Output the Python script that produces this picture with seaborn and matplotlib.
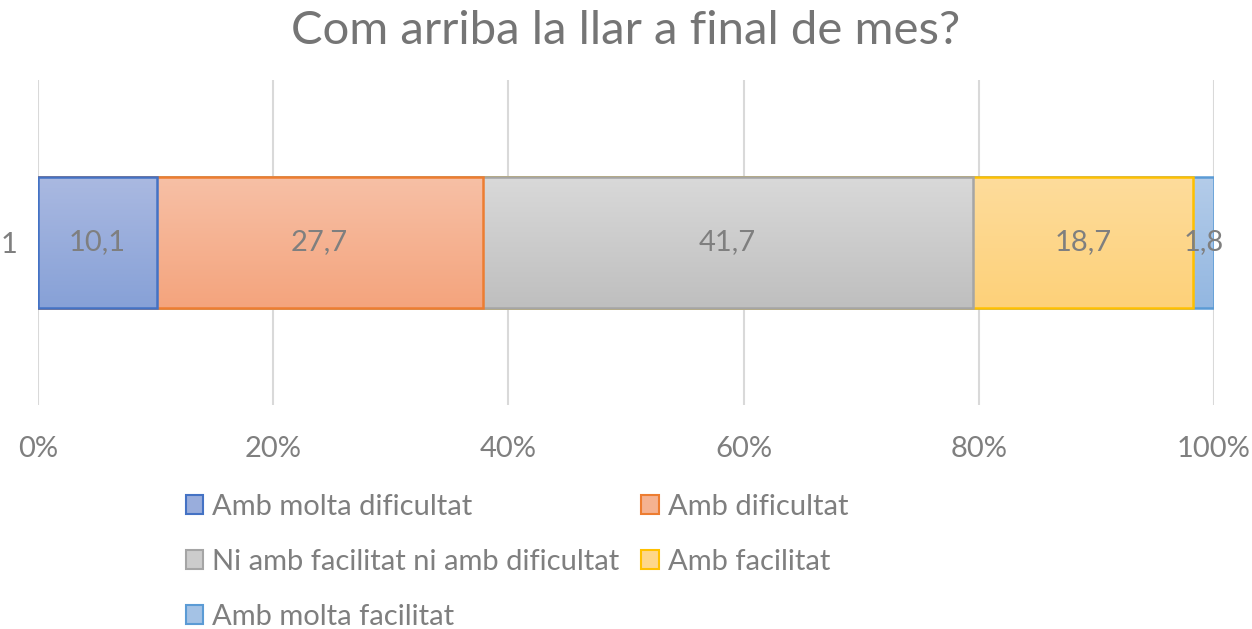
import numpy as np
import pandas as pd
import matplotlib
matplotlib.use("Agg")
import matplotlib.pyplot as plt
from matplotlib.patches import Patch
from matplotlib.colors import LinearSegmentedColormap
import seaborn as sns

# ---- data ----
categories = ["Amb molta dificultat", "Amb dificultat",
              "Ni amb facilitat ni amb dificultat", "Amb facilitat",
              "Amb molta facilitat"]
values = [10.1, 27.7, 41.7, 18.7, 1.8]
value_labels = ["10,1", "27,7", "41,7", "18,7", "1,8"]
row_label = ["1"]
xticks = [0, 20, 40, 60, 80, 100]
xtick_labels = ["0%", "20%", "40%", "60%", "80%", "100%"]
title = "Com arriba la llar a final de mes?"

# ---- styles ----
edge_colors = ["#4472C4", "#ED7D31", "#A5A5A5", "#FFC000", "#5B9BD5"]
grad_top = ["#AAB9E1", "#F7C0A6", "#D9D9D9", "#FEDC9C", "#B4CCE9"]
grad_bot = ["#87A1D7", "#F4A47D", "#BFBFBF", "#FDD179", "#93B7E1"]
mid_cols = ["#99ADDC", "#F5B291", "#CCCCCC", "#FED78A", "#A4C2E5"]
text_col = "#7F7F7F"

sns.set_theme(style="white")
plt.rcParams["font.family"] = ["Lato", "DejaVu Sans"]

fig = plt.figure(figsize=(12.52, 6.29), dpi=100)
ax = fig.add_axes([38/1252, 1-405/629, (1214-38)/1252, (405-80)/629])

cum = np.cumsum(values)
starts = cum - np.array(values)
df = pd.DataFrame({"cat": categories, "val": values, "cum": cum, "row": row_label * len(values)})

bars = []
for i in reversed(range(len(values))):
    before = len(ax.patches)
    sns.barplot(data=df.iloc[[i]], x="cum", y="row", orient="h", ax=ax,
                color=mid_cols[i], edgecolor=edge_colors[i], linewidth=1.8,
                width=0.405, zorder=2 + (len(values) - i) * 2, saturation=1)
    bars.append((i, ax.patches[before]))

ax.set_xlim(0, 100)
ax.set_ylim(0.5, -0.5)

# gradient fills
for i, p in bars:
    x0, y0 = p.get_x(), p.get_y()
    w, h = p.get_width(), p.get_height()
    cmap = LinearSegmentedColormap.from_list("g%d" % i, [grad_top[i], grad_bot[i]])
    grad = np.linspace(0, 1, 100).reshape(-1, 1)
    im = ax.imshow(grad, cmap=cmap, aspect="auto", extent=[x0, x0 + w, y0 + h, y0],
                   origin="upper", zorder=p.get_zorder() - 0.5, interpolation="bilinear")
    im.set_clip_path(p)
    p.set_facecolor("none")

ax.set_xlim(0, 100)
ax.set_ylim(0.5, -0.5)

for i in range(len(values)):
    ax.text(starts[i] + values[i] / 2, 0, value_labels[i], ha="center", va="center",
            color=text_col, fontsize=21, zorder=20)

ax.set_xticks(xticks)
ax.set_xticklabels(xtick_labels)
ax.grid(axis="x", color="#D9D9D9", linewidth=1.5, zorder=0)
ax.set_axisbelow(True)
for s in ax.spines.values():
    s.set_visible(False)
ax.tick_params(axis="x", length=0, pad=22, labelsize=21, labelcolor=text_col)
ax.tick_params(axis="y", length=0, pad=15, labelsize=21, labelcolor=text_col)
ax.set_xlabel("")
ax.set_ylabel("")

fig.text(0.5, 1 - 31/629, title, ha="center", va="center", fontsize=34, color="#757575")

handles = [Patch(facecolor=mid_cols[i], edgecolor=edge_colors[i], linewidth=1.5, label=categories[i])
           for i in range(len(values))]
order = [0, 2, 4, 1, 3]
leg = fig.legend([handles[k] for k in order], [categories[k] for k in order],
                 ncol=2, loc="upper left", bbox_to_anchor=(186/1252, 1 - 494/629),
                 frameon=False, fontsize=21, labelcolor=text_col,
                 handlelength=0.6, handleheight=0.6, handletextpad=0.3,
                 labelspacing=0.99, columnspacing=0.75, borderaxespad=0, borderpad=0)

fig.savefig("out.png", dpi=100)
